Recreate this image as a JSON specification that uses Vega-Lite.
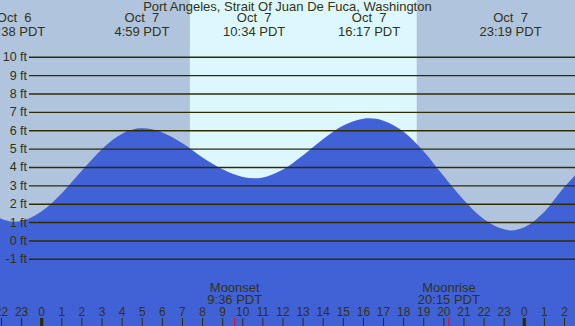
{
  "$schema": "https://vega.github.io/schema/vega-lite/v6.json",
  "width": 575,
  "height": 326,
  "padding": 0,
  "autosize": "none",
  "background": "#b0c4de",
  "config": {"view": {"stroke": null}, "text": {"font": "Liberation Sans", "color": "#333311"}},
  "datasets": {
    "tide": [
      {"t": -2.1, "h": 1.25}, {"t": -1.7, "h": 1.1}, {"t": -1.37, "h": 1.05}, {"t": -1, "h": 1.09},
      {"t": 0, "h": 1.61}, {"t": 1, "h": 2.6}, {"t": 2, "h": 3.83}, {"t": 3, "h": 5.01},
      {"t": 4, "h": 5.84}, {"t": 4.98, "h": 6.13}, {"t": 6, "h": 5.91}, {"t": 7, "h": 5.32},
      {"t": 8, "h": 4.55}, {"t": 9, "h": 3.9}, {"t": 10, "h": 3.48}, {"t": 10.57, "h": 3.41},
      {"t": 11, "h": 3.46}, {"t": 12, "h": 3.89}, {"t": 13, "h": 4.67}, {"t": 14, "h": 5.55},
      {"t": 15, "h": 6.29}, {"t": 16, "h": 6.66}, {"t": 16.28, "h": 6.68}, {"t": 17, "h": 6.55},
      {"t": 18, "h": 5.95}, {"t": 19, "h": 4.87}, {"t": 20, "h": 3.52}, {"t": 21, "h": 2.22},
      {"t": 22, "h": 1.18}, {"t": 23, "h": 0.63}, {"t": 23.35, "h": 0.57}, {"t": 24, "h": 0.74},
      {"t": 25, "h": 1.59}, {"t": 26, "h": 2.95}, {"t": 26.6, "h": 3.65}
    ],
    "hours": [
      {"t": -2, "label": "22"}, {"t": -1, "label": "23"}, {"t": 0, "label": "0"}, {"t": 1, "label": "1"},
      {"t": 2, "label": "2"}, {"t": 3, "label": "3"}, {"t": 4, "label": "4"}, {"t": 5, "label": "5"},
      {"t": 6, "label": "6"}, {"t": 7, "label": "7"}, {"t": 8, "label": "8"}, {"t": 9, "label": "9"},
      {"t": 10, "label": "10"}, {"t": 11, "label": "11"}, {"t": 12, "label": "12"}, {"t": 13, "label": "13"},
      {"t": 14, "label": "14"}, {"t": 15, "label": "15"}, {"t": 16, "label": "16"}, {"t": 17, "label": "17"},
      {"t": 18, "label": "18"}, {"t": 19, "label": "19"}, {"t": 20, "label": "20"}, {"t": 21, "label": "21"},
      {"t": 22, "label": "22"}, {"t": 23, "label": "23"}, {"t": 24, "label": "0"}, {"t": 25, "label": "1"},
      {"t": 26, "label": "2"}
    ],
    "levels": [
      {"ft": -1, "label": "-1 ft"}, {"ft": 0, "label": "0 ft"}, {"ft": 1, "label": "1 ft"}, {"ft": 2, "label": "2 ft"},
      {"ft": 3, "label": "3 ft"}, {"ft": 4, "label": "4 ft"}, {"ft": 5, "label": "5 ft"}, {"ft": 6, "label": "6 ft"},
      {"ft": 7, "label": "7 ft"}, {"ft": 8, "label": "8 ft"}, {"ft": 9, "label": "9 ft"}, {"ft": 10, "label": "10 ft"}
    ],
    "events": [
      {"t": -1.367, "date": "Oct \u00a06", "time": "22:38 PDT"},
      {"t": 4.983, "date": "Oct \u00a07", "time": "4:59 PDT"},
      {"t": 10.567, "date": "Oct \u00a07", "time": "10:34 PDT"},
      {"t": 16.283, "date": "Oct \u00a07", "time": "16:17 PDT"},
      {"t": 23.317, "date": "Oct \u00a07", "time": "23:19 PDT"}
    ],
    "moon": [
      {"t": 9.6, "name": "Moonset", "time": "9:36 PDT"},
      {"t": 20.25, "name": "Moonrise", "time": "20:15 PDT"}
    ],
    "day": [{"start": 7.37, "end": 18.65}],
    "title": [{"t": 12.22, "text": "Port Angeles, Strait Of Juan De Fuca, Washington"}]
  },
  "layer": [
    {
      "data": {"name": "day"},
      "mark": {"type": "rect", "color": "#ddf7ff"},
      "encoding": {
        "x": {"field": "start", "type": "quantitative", "scale": {"domain": [-2.074, 26.522], "nice": false, "zero": false}, "axis": null},
        "x2": {"field": "end"}
      }
    },
    {
      "data": {"name": "tide"},
      "mark": {"type": "area", "color": "#4161d6", "interpolate": "monotone", "opacity": 1},
      "encoding": {
        "x": {"field": "t", "type": "quantitative", "scale": {"domain": [-2.074, 26.522], "nice": false, "zero": false}, "axis": null},
        "y": {"field": "h", "type": "quantitative", "scale": {"domain": [-4.632, 13.12], "nice": false, "zero": false}, "axis": null},
        "y2": {"datum": -4.632}
      }
    },
    {
      "data": {"name": "levels"},
      "mark": {"type": "rule", "color": "#302c00", "strokeWidth": 1.4},
      "encoding": {
        "x": {"datum": -0.632, "type": "quantitative"},
        "x2": {"datum": 26.6},
        "y": {"field": "ft", "type": "quantitative"}
      }
    },
    {
      "data": {"name": "levels"},
      "mark": {"type": "text", "align": "right", "baseline": "middle", "fontSize": 12.5},
      "encoding": {
        "x": {"datum": -0.73, "type": "quantitative"},
        "y": {"field": "ft", "type": "quantitative"},
        "text": {"field": "label"}
      }
    },
    {
      "data": {"name": "title"},
      "mark": {"type": "text", "align": "center", "baseline": "alphabetic", "fontSize": 13},
      "encoding": {
        "x": {"field": "t", "type": "quantitative"},
        "y": {"datum": 12.537, "type": "quantitative"},
        "text": {"field": "text"}
      }
    },
    {
      "data": {"name": "events"},
      "mark": {"type": "text", "align": "center", "baseline": "alphabetic", "fontSize": 13},
      "encoding": {
        "x": {"field": "t", "type": "quantitative"},
        "y": {"datum": 11.907, "type": "quantitative"},
        "text": {"field": "date"}
      }
    },
    {
      "data": {"name": "events"},
      "mark": {"type": "text", "align": "center", "baseline": "alphabetic", "fontSize": 13},
      "encoding": {
        "x": {"field": "t", "type": "quantitative"},
        "y": {"datum": 11.176, "type": "quantitative"},
        "text": {"field": "time"}
      }
    },
    {
      "data": {"name": "hours"},
      "mark": {"type": "rule", "color": "#302c00"},
      "encoding": {
        "x": {"field": "t", "type": "quantitative"},
        "y": {"datum": -4.196, "type": "quantitative"},
        "y2": {"datum": -4.632},
        "strokeWidth": {"condition": {"test": "datum.label == '0'", "value": 3.3}, "value": 1}
      }
    },
    {
      "data": {"name": "hours"},
      "mark": {"type": "text", "align": "center", "baseline": "alphabetic", "fontSize": 12},
      "encoding": {
        "x": {"field": "t", "type": "quantitative"},
        "y": {"datum": -4.087, "type": "quantitative"},
        "text": {"field": "label"}
      }
    },
    {
      "data": {"name": "moon"},
      "mark": {"type": "rule", "color": "#ff0000", "strokeWidth": 1},
      "encoding": {
        "x": {"field": "t", "type": "quantitative"},
        "y": {"datum": -4.196, "type": "quantitative"},
        "y2": {"datum": -4.632}
      }
    },
    {
      "data": {"name": "moon"},
      "mark": {"type": "text", "align": "center", "baseline": "alphabetic", "fontSize": 13},
      "encoding": {
        "x": {"field": "t", "type": "quantitative"},
        "y": {"datum": -2.767, "type": "quantitative"},
        "text": {"field": "name"}
      }
    },
    {
      "data": {"name": "moon"},
      "mark": {"type": "text", "align": "center", "baseline": "alphabetic", "fontSize": 13},
      "encoding": {
        "x": {"field": "t", "type": "quantitative"},
        "y": {"datum": -3.456, "type": "quantitative"},
        "text": {"field": "time"}
      }
    }
  ]
}
